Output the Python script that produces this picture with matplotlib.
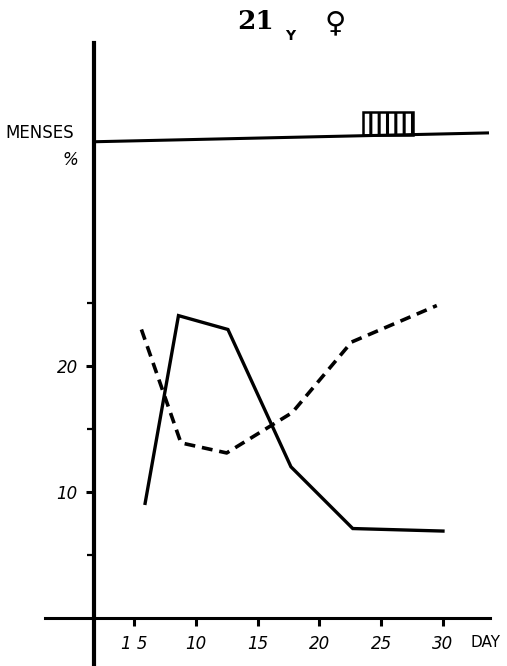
import matplotlib.pyplot as plt
from matplotlib.patches import Rectangle

# values
solid_days = [5.9, 8.6, 12.6, 17.7, 22.7, 30.0]
solid_vals = [9.1, 24.0, 22.9, 12.0, 7.1, 6.9]

dashed_days = [5.6, 8.8, 12.5, 17.8, 22.6, 29.5]
dashed_vals = [22.9, 13.9, 13.1, 16.3, 21.9, 24.8]

x_ticks = [5, 10, 15, 20, 25, 30]
x_tick_labels = ["1 5", "10", "15", "20", "25", "30"]
y_major = [10, 20]
y_minor = [5, 15, 25]

menses_line_days = [1.8, 33.6]
menses_line_level = [37.8, 38.5]
menses_start, menses_end = 23.5, 27.6
menses_bottom, menses_top = 38.3, 40.2

axis_day = 1.8

fig = plt.figure(figsize=(5.07, 6.66), dpi=100)
ax = fig.add_axes([0, 0, 1, 1])
ax.set_xlim(-5.84, 35.18)
ax.set_ylim(-3.81, 49.05)
ax.patch.set_alpha(0)

for side in ("top", "right"):
    ax.spines[side].set_visible(False)
ax.spines["left"].set_position(("data", axis_day))
ax.spines["bottom"].set_position(("data", 0))
ax.spines["left"].set_linewidth(3.0)
ax.spines["bottom"].set_linewidth(2.2)
ax.spines["left"].set_bounds(-3.81, 45.6)
ax.spines["bottom"].set_bounds(-2.2, 33.8)

ax.set_xticks(x_ticks)
ax.set_xticklabels(x_tick_labels, fontstyle="italic", fontsize=12)
ax.set_yticks(y_major)
ax.set_yticklabels([str(v) for v in y_major], fontstyle="italic", fontsize=12)
ax.set_yticks(y_minor, minor=True)
ax.tick_params(axis="x", direction="out", length=6, width=2.2, pad=6)
ax.tick_params(axis="y", which="major", direction="out", length=6, width=2.2, pad=6)
ax.tick_params(axis="y", which="minor", direction="out", length=5, width=1.6)

ax.plot(solid_days, solid_vals, color="black", linewidth=2.4, solid_joinstyle="miter")
ax.plot(dashed_days, dashed_vals, color="black", linewidth=2.6, linestyle=(0, (3.0, 1.9)))

# menses strip
ax.plot(menses_line_days, menses_line_level, color="black", linewidth=2.2)
plt.rcParams["hatch.linewidth"] = 2.2
ax.add_patch(Rectangle((menses_start, menses_bottom), menses_end - menses_start,
                       menses_top - menses_bottom, facecolor="white",
                       edgecolor="black", linewidth=1.8, hatch="||"))

fig.text(0.01, 0.80, "MENSES", fontsize=12, ha="left", va="center")
fig.text(0.138, 0.76, "%", fontsize=12, fontstyle="italic", ha="center", va="center")
fig.text(0.928, 0.036, "DAY", fontsize=11, ha="left", va="center")

fig.text(0.505, 0.968, "21", fontsize=19, fontweight="bold", family="DejaVu Serif",
         ha="center", va="center")
fig.text(0.572, 0.946, "Y", fontsize=10, fontweight="bold", ha="center", va="center")
fig.text(0.662, 0.965, "\u2640", fontsize=21, ha="center", va="center")

fig.savefig("out.png", dpi=100)
